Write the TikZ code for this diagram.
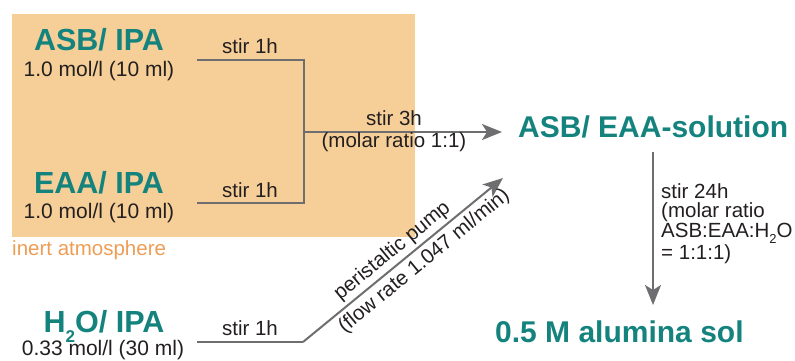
\documentclass[tikz,border=0pt]{standalone}
\usepackage{fontspec}
\setmainfont{Liberation Sans}
\usetikzlibrary{arrows.meta}
\definecolor{teal1}{HTML}{14837E}
\definecolor{inert}{HTML}{F6CF98}
\definecolor{inerttext}{HTML}{EE9D55}
\definecolor{arrowgray}{HTML}{6E6E70}
\definecolor{txt}{HTML}{231F20}
\newcommand{\bigsub}[1]{\raisebox{-10pt}{\fontsize{17}{17}\selectfont #1}}
\newcommand{\lblsub}[1]{\raisebox{-6pt}{\fontsize{13}{13}\selectfont #1}}
\begin{document}
\begin{tikzpicture}[x=1pt,y=-1pt,
  big/.style={text=teal1,font=\fontsize{30.5}{32}\selectfont\bfseries,inner sep=0pt,anchor=base},
  huge/.style={text=teal1,font=\fontsize{30}{32}\selectfont\bfseries,inner sep=0pt,anchor=base west},
  sub/.style={text=txt,font=\fontsize{21}{23}\selectfont,inner sep=0pt,anchor=base},
  lbl/.style={text=txt,font=\fontsize{20.5}{19.6}\selectfont,inner sep=1pt},
  flow/.style={draw=arrowgray,line width=2pt},
  tip/.style={-{Stealth[length=20pt,width=16pt,inset=5pt]}}]
\useasboundingbox (0,0) rectangle (795,360);
\fill[inert] (12,14) rectangle (415,237);
\node[anchor=base west,text=inerttext,font=\fontsize{20.5}{22}\selectfont,inner sep=0pt] (inert) at (12,255) {inert atmosphere};

\node[big] (asb) at (99,50) {ASB/ IPA};
\node[sub] (asbc) at (99,76) {1.0 mol/l (10 ml)};
\node[big] (eaa) at (99,193) {EAA/ IPA};
\node[sub] (eaac) at (99,218) {1.0 mol/l (10 ml)};
\node[big] (h2o) at (104,332) {H\bigsub{2}O/ IPA};
\node[sub] (h2oc) at (103,355) {0.33 mol/l (30 ml)};
\node[huge] (sol) at (518,137) {ASB/ EAA-solution};
\node[huge] (alu) at (495,342) {0.5 M alumina sol};

\coordinate (a1) at (197,60);
\coordinate (e1) at (197,203);
\coordinate (j) at (304,132);
\coordinate (h1) at (197,342);
\coordinate (h2) at (303,342);
\coordinate (t1) at (502,132);
\coordinate (t2) at (503,178);
\coordinate (d1) at (653,152);
\coordinate (d2) at (653,305);

\draw[flow] (a1) -- (304,60) -- (304,203) -- (e1);
\node[lbl,anchor=base] (s1a) at (250,53) {stir 1h};
\node[lbl,anchor=base] (s1b) at (250,197) {stir 1h};
\draw[flow,tip] (j) -- (t1);
\node[lbl,anchor=base] (s3) at (394,125) {stir 3h};
\node[lbl,anchor=base] (mr) at (394,147) {(molar ratio 1:1)};
\draw[flow] (h1) -- (h2);
\node[lbl,anchor=base] (s1c) at (250,335) {stir 1h};
\draw[flow,tip] (h2) -- node[lbl,sloped,above=2pt,pos=0.49] {peristaltic pump}
  node[lbl,sloped,below=3pt,pos=0.56] {(flow rate 1.047 ml/min)} (t2);
\draw[flow,tip] (d1) -- (d2);
\node[lbl,anchor=north west,align=left,inner sep=0pt] (s24) at (661,183) {stir 24h\\(molar ratio\\ASB:EAA:H\lblsub{2}O\\= 1:1:1)};
\end{tikzpicture}
\end{document}
